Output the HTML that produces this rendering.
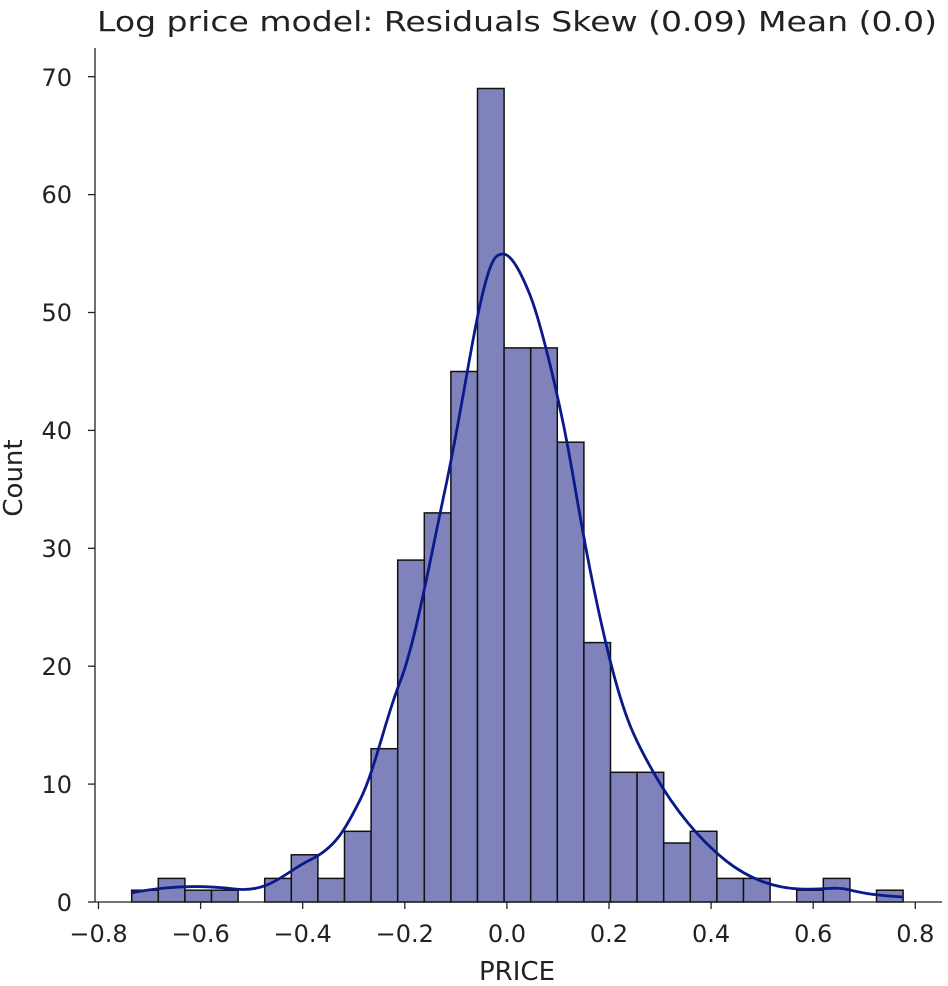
<!DOCTYPE html>
<html><head><meta charset="utf-8"><style>body{margin:0;background:#fff}svg{display:block}text{font-family:"DejaVu Sans","Liberation Sans",sans-serif;fill:#222}</style></head>
<body>
<svg width="948" height="986" viewBox="0 0 948 986" xmlns="http://www.w3.org/2000/svg">
<g fill="#7f82bb" stroke="#111" stroke-width="1.5">
<rect x="131.7" y="890.2" width="26.6" height="11.8"/>
<rect x="158.3" y="878.4" width="26.6" height="23.6"/>
<rect x="184.9" y="890.2" width="26.6" height="11.8"/>
<rect x="211.5" y="890.2" width="26.6" height="11.8"/>
<rect x="264.7" y="878.4" width="26.6" height="23.6"/>
<rect x="291.3" y="854.8" width="26.6" height="47.2"/>
<rect x="317.9" y="878.4" width="26.6" height="23.6"/>
<rect x="344.5" y="831.3" width="26.6" height="70.7"/>
<rect x="371.1" y="748.7" width="26.6" height="153.3"/>
<rect x="397.7" y="560.1" width="26.6" height="341.9"/>
<rect x="424.3" y="512.9" width="26.6" height="389.1"/>
<rect x="450.9" y="371.5" width="26.6" height="530.5"/>
<rect x="477.5" y="88.5" width="26.6" height="813.5"/>
<rect x="504.1" y="347.9" width="26.6" height="554.1"/>
<rect x="530.7" y="347.9" width="26.6" height="554.1"/>
<rect x="557.3" y="442.2" width="26.6" height="459.8"/>
<rect x="583.9" y="642.6" width="26.6" height="259.4"/>
<rect x="610.5" y="772.3" width="26.6" height="129.7"/>
<rect x="637.1" y="772.3" width="26.6" height="129.7"/>
<rect x="663.7" y="843.0" width="26.6" height="59.0"/>
<rect x="690.3" y="831.3" width="26.6" height="70.7"/>
<rect x="716.9" y="878.4" width="26.6" height="23.6"/>
<rect x="743.5" y="878.4" width="26.6" height="23.6"/>
<rect x="796.7" y="890.2" width="26.6" height="11.8"/>
<rect x="823.3" y="878.4" width="26.6" height="23.6"/>
<rect x="876.5" y="890.2" width="26.6" height="11.8"/>
</g>
<path fill="none" stroke="#0a1a8a" stroke-width="2.8" stroke-linejoin="round" d="M131,893 C145,890 155,889 165,888 S200,885 235,889 S285,872 310,860 S345,830 360,800 S385,720 400,682 S430,560 445,490 S470,350 480,305 S495,254 503,254 S520,270 530,295 S560,400 572,470 S595,600 610,660 S635,740 655,775 S700,840 725,860 S775,888 800,889 S835,886 850,890 S885,896 903,897"/>
<line x1="95" y1="902" x2="942" y2="902" stroke="#222" stroke-width="1.3"/>
<line x1="95" y1="48" x2="95" y2="902" stroke="#222" stroke-width="1.3"/>
<g stroke="#222" stroke-width="1.3">
<line x1="98.5" y1="902" x2="98.5" y2="909"/><line x1="200.6" y1="902" x2="200.6" y2="909"/><line x1="302.7" y1="902" x2="302.7" y2="909"/><line x1="404.8" y1="902" x2="404.8" y2="909"/><line x1="506.9" y1="902" x2="506.9" y2="909"/><line x1="609" y1="902" x2="609" y2="909"/><line x1="711.1" y1="902" x2="711.1" y2="909"/><line x1="813.2" y1="902" x2="813.2" y2="909"/><line x1="915.3" y1="902" x2="915.3" y2="909"/>
<line x1="88" y1="902" x2="95" y2="902"/><line x1="88" y1="784.1" x2="95" y2="784.1"/><line x1="88" y1="666.2" x2="95" y2="666.2"/><line x1="88" y1="548.3" x2="95" y2="548.3"/><line x1="88" y1="430.4" x2="95" y2="430.4"/><line x1="88" y1="312.5" x2="95" y2="312.5"/><line x1="88" y1="194.6" x2="95" y2="194.6"/><line x1="88" y1="76.7" x2="95" y2="76.7"/>
</g>
<g font-size="24" text-anchor="middle">
<text x="98.5" y="942">−0.8</text><text x="200.6" y="942">−0.6</text><text x="302.7" y="942">−0.4</text><text x="404.8" y="942">−0.2</text><text x="506.9" y="942">0.0</text><text x="609" y="942">0.2</text><text x="711.1" y="942">0.4</text><text x="813.2" y="942">0.6</text><text x="915.3" y="942">0.8</text>
</g>
<g font-size="24" text-anchor="end">
<text x="72" y="911">0</text><text x="72" y="793">10</text><text x="72" y="675">20</text><text x="72" y="557">30</text><text x="72" y="439">40</text><text x="72" y="321">50</text><text x="72" y="203">60</text><text x="72" y="86">70</text>
</g>
<text x="97" y="31" font-size="28" textLength="840" lengthAdjust="spacingAndGlyphs">Log price model: Residuals Skew (0.09) Mean (0.0)</text>
<text x="517" y="980" font-size="26" text-anchor="middle">PRICE</text>
<text transform="translate(22,478) rotate(-90)" font-size="26" text-anchor="middle">Count</text>
</svg>
</body></html>
